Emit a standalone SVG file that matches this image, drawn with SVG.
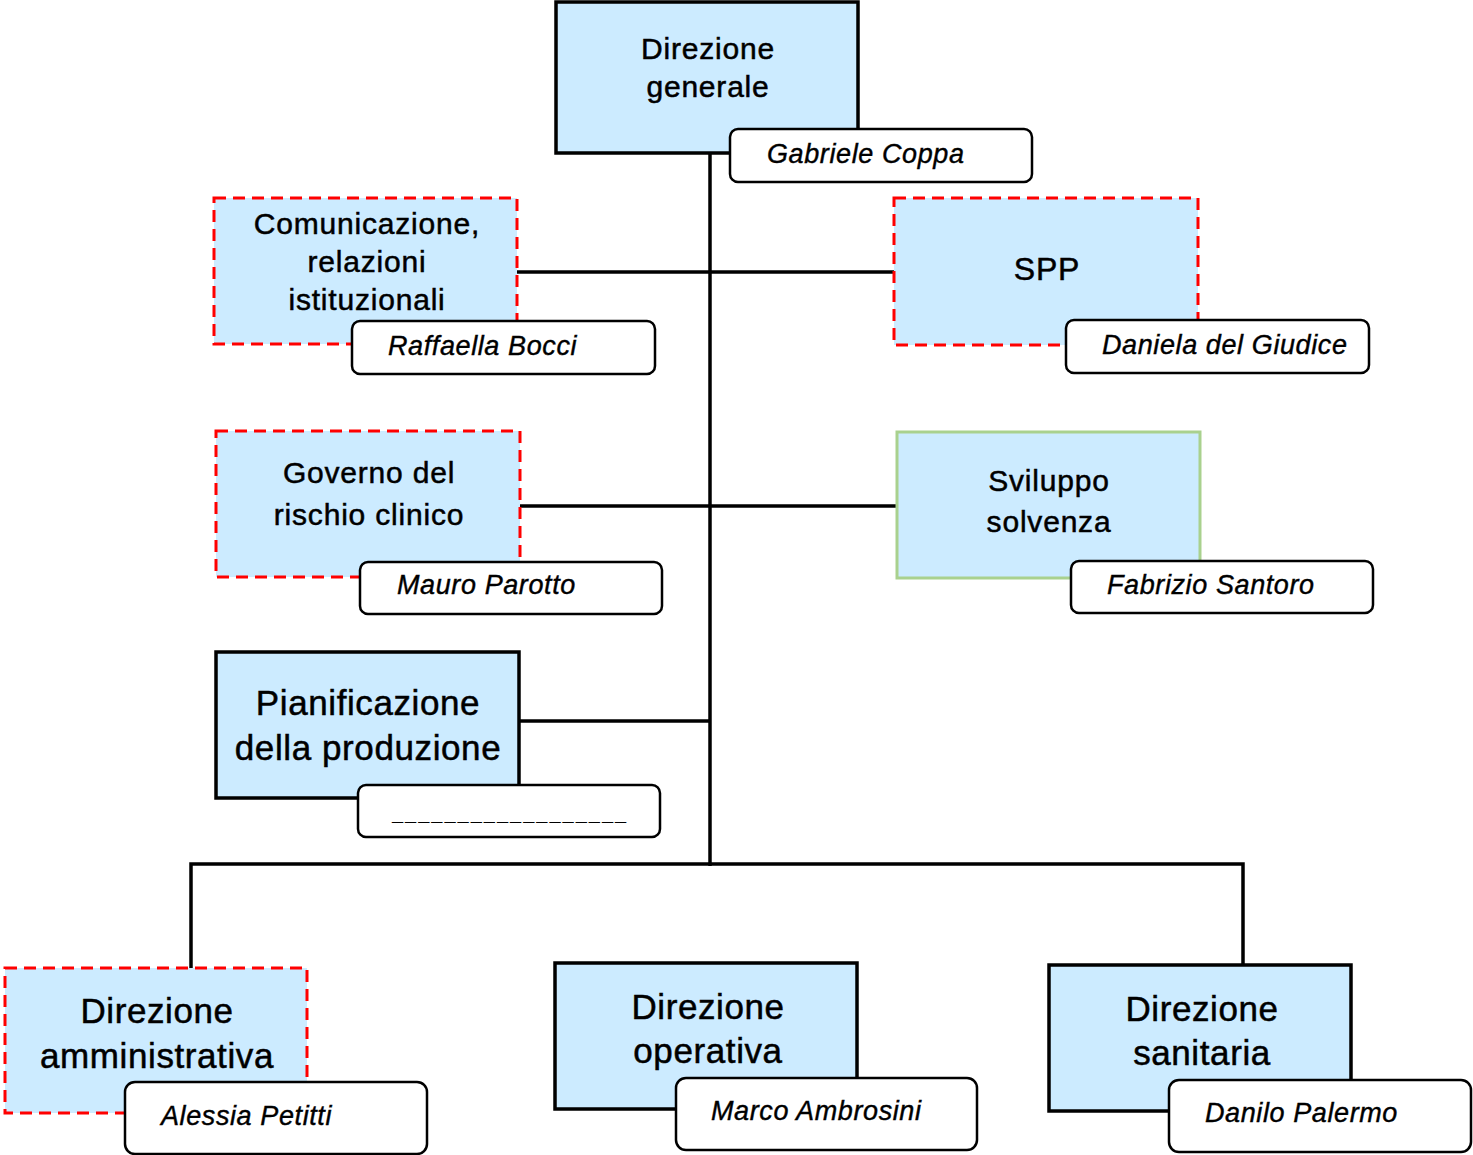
<svg xmlns="http://www.w3.org/2000/svg" width="1473" height="1155" viewBox="0 0 1473 1155">
<style>
.box{fill:#CCEBFF;stroke:#000;stroke-width:3.5}
.red{fill:#CCEBFF;stroke:#FF0000;stroke-width:3;stroke-dasharray:12 7}
.green{fill:#CCEBFF;stroke:#A9D18E;stroke-width:3}
.name{fill:#fff;stroke:#000;stroke-width:2.5}
.t{font-family:"Liberation Sans",Arial,sans-serif;font-size:30px;fill:#000;stroke:#000;stroke-width:0.5;letter-spacing:0.8px;text-anchor:middle}
.tb{font-family:"Liberation Sans",Arial,sans-serif;font-size:35px;fill:#000;stroke:#000;stroke-width:0.5;letter-spacing:0.6px;text-anchor:middle}
.n{font-family:"Liberation Sans",Arial,sans-serif;font-size:27px;font-style:italic;fill:#000;stroke:#000;stroke-width:0.4;letter-spacing:0.6px}
.u{font-family:"Liberation Sans",Arial,sans-serif;font-size:20px;font-weight:bold;fill:#000;letter-spacing:2px}
.c{stroke:#000;stroke-width:3.5;fill:none}
</style>
<g id="connectors">
<line class="c" x1="710" y1="150" x2="710" y2="866"/>
<line class="c" x1="517" y1="272" x2="894" y2="272"/>
<line class="c" x1="520" y1="506" x2="897" y2="506"/>
<line class="c" x1="519" y1="721" x2="710" y2="721"/>
<polyline class="c" points="191,968 191,864 1243,864 1243,965"/>
</g>
<g id="direzione-generale">
<rect class="box" x="556" y="2" width="302" height="151"/>
<text class="t" x="708" y="59">Direzione</text>
<text class="t" x="708" y="97">generale</text>
<rect class="name" x="730" y="129" width="302" height="53" rx="8"/>
<text class="n" x="767" y="163">Gabriele Coppa</text>
</g>
<g id="comunicazione">
<rect class="red" x="214" y="198" width="303" height="146"/>
<text class="t" x="367" y="234">Comunicazione,</text>
<text class="t" x="367" y="272">relazioni</text>
<text class="t" x="367" y="310">istituzionali</text>
<rect class="name" x="352" y="321" width="303" height="53" rx="8"/>
<text class="n" x="388" y="355">Raffaella Bocci</text>
</g>
<g id="spp">
<rect class="red" x="894" y="198" width="304" height="147"/>
<text class="t" x="1047" y="280" style="font-size:32px">SPP</text>
<rect class="name" x="1066" y="320" width="303" height="53" rx="8"/>
<text class="n" x="1102" y="354">Daniela del Giudice</text>
</g>
<g id="governo-rischio">
<rect class="red" x="216" y="431" width="304" height="146"/>
<text class="t" x="369" y="483">Governo del</text>
<text class="t" x="369" y="525">rischio clinico</text>
<rect class="name" x="360" y="562" width="302" height="52" rx="8"/>
<text class="n" x="397" y="594">Mauro Parotto</text>
</g>
<g id="sviluppo-solvenza">
<rect class="green" x="897" y="432" width="303" height="146"/>
<text class="t" x="1049" y="491">Sviluppo</text>
<text class="t" x="1049" y="532">solvenza</text>
<rect class="name" x="1071" y="561" width="302" height="52" rx="8"/>
<text class="n" x="1107" y="594">Fabrizio Santoro</text>
</g>
<g id="pianificazione">
<rect class="box" x="216" y="652" width="303" height="146"/>
<text class="tb" x="368" y="715">Pianificazione</text>
<text class="tb" x="368" y="760">della produzione</text>
<rect class="name" x="358" y="785" width="302" height="52" rx="8"/>
<text class="u" x="392" y="820">__________________</text>
</g>
<g id="direzione-amministrativa">
<rect class="red" x="5" y="968" width="302" height="145"/>
<text class="tb" x="157" y="1023">Direzione</text>
<text class="tb" x="157" y="1068">amministrativa</text>
<rect class="name" x="125" y="1082" width="302" height="72" rx="10"/>
<text class="n" x="161" y="1125">Alessia Petitti</text>
</g>
<g id="direzione-operativa">
<rect class="box" x="555" y="963" width="302" height="146"/>
<text class="tb" x="708" y="1019">Direzione</text>
<text class="tb" x="708" y="1063">operativa</text>
<rect class="name" x="676" y="1078" width="301" height="72" rx="10"/>
<text class="n" x="711" y="1120">Marco Ambrosini</text>
</g>
<g id="direzione-sanitaria">
<rect class="box" x="1049" y="965" width="302" height="146"/>
<text class="tb" x="1202" y="1021">Direzione</text>
<text class="tb" x="1202" y="1065">sanitaria</text>
<rect class="name" x="1169" y="1080" width="302" height="72" rx="10"/>
<text class="n" x="1205" y="1122">Danilo Palermo</text>
</g>
</svg>
